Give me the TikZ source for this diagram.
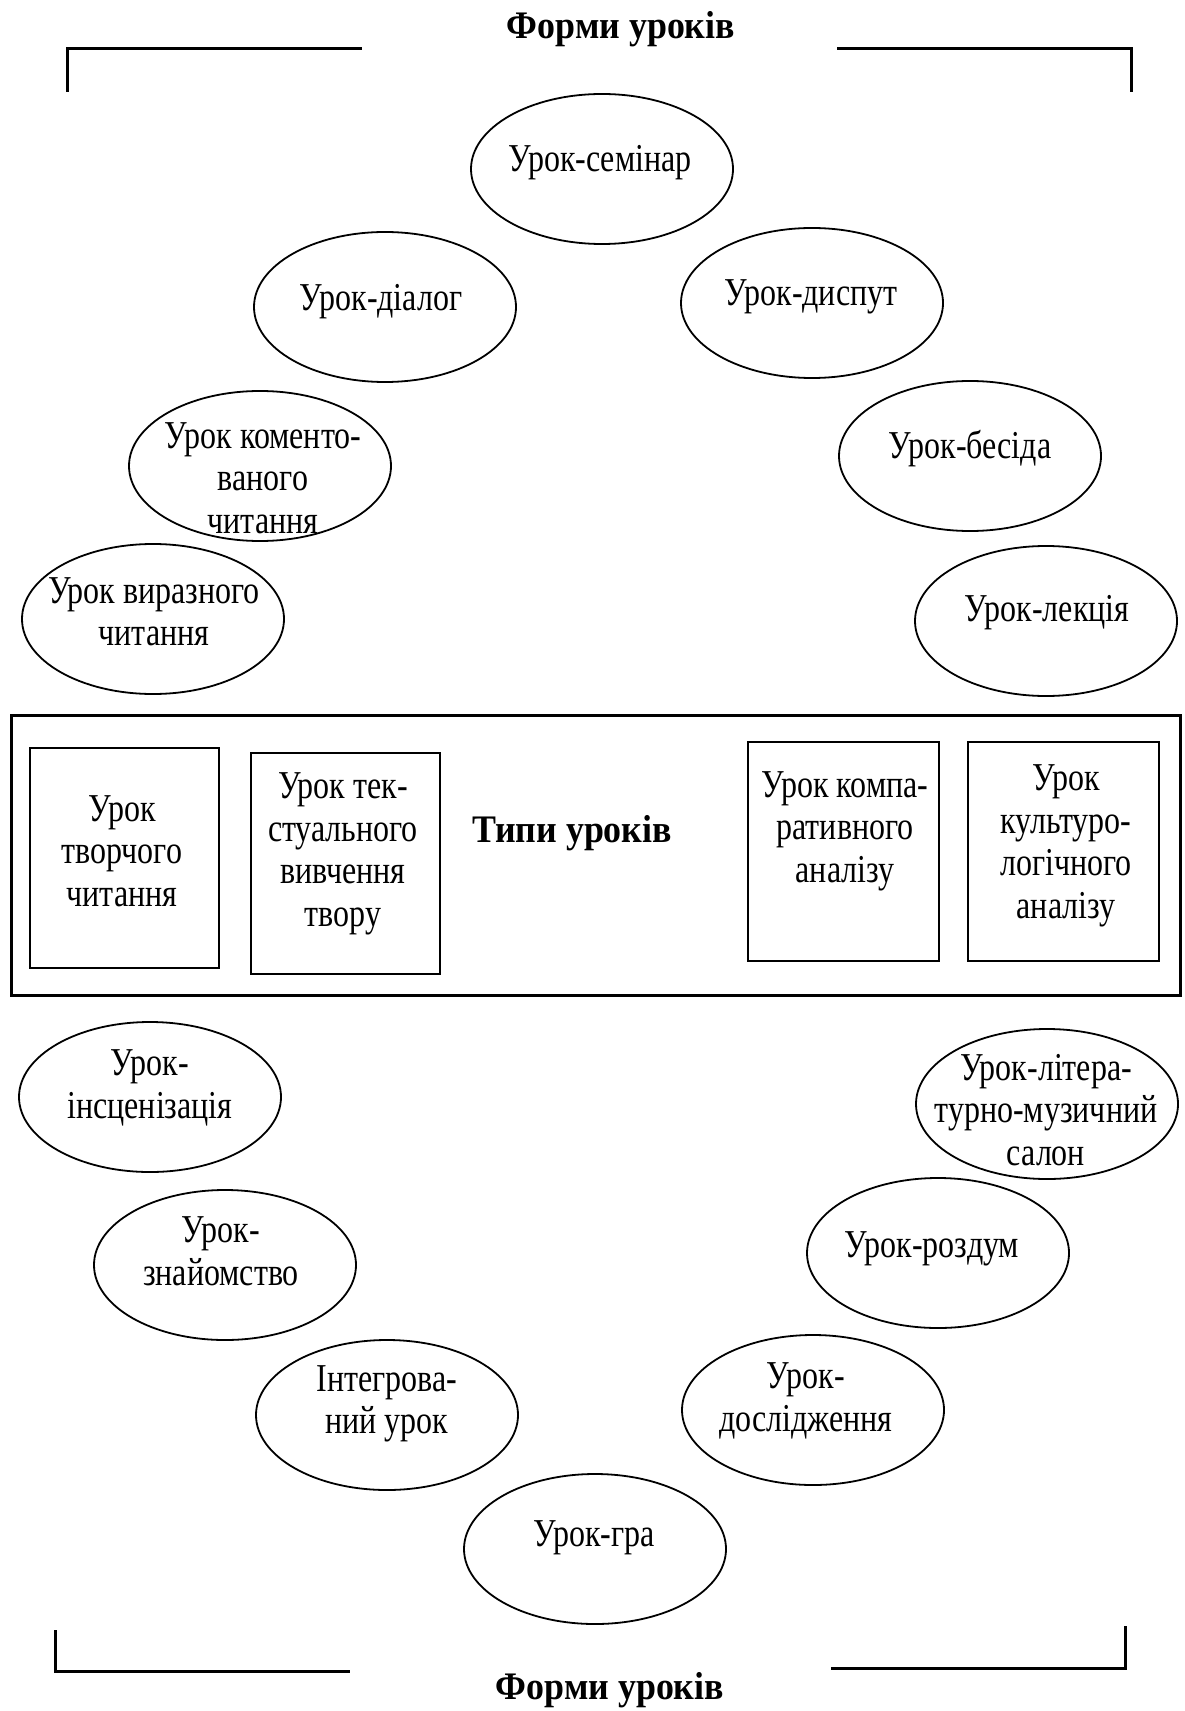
\documentclass[tikz,border=0pt]{standalone}
\usepackage{fontspec}
\setmainfont{Liberation Serif}[FakeStretch=0.81]
\newfontfamily\titlefont{Liberation Serif}[FakeStretch=0.92]
\usetikzlibrary{shapes.geometric}
\begin{document}
\begin{tikzpicture}[x=0.5pt,y=-0.5pt,
  formell/.style={ellipse, draw, line width=0.9pt, minimum width=131pt, minimum height=75pt, inner sep=0pt},
  formtext/.style={align=center, font=\fontsize{19.75pt}{21.25pt}\selectfont, inner sep=0pt},
  typebox/.style={draw, line width=0.7pt, inner sep=0pt},
  bigbox/.style={draw, line width=1.5pt, inner sep=0pt, minimum width=584.5pt, minimum height=140pt},
  bracket/.style={line width=1.5pt},
  headtext/.style={font=\titlefont\bfseries\fontsize{19.5pt}{21pt}\selectfont, inner sep=0pt}]
\useasboundingbox (0,0) rectangle (1184,1711);

% titles and brackets
\node[headtext] (ttop) at (621,29) {Форми уроків};
\node[headtext] (tbot) at (610,1690) {Форми уроків};
\coordinate (tl1) at (67,92); \coordinate (tl2) at (67,49); \coordinate (tl3) at (362,49);
\coordinate (tr1) at (837,49); \coordinate (tr2) at (1131,49); \coordinate (tr3) at (1131,92);
\coordinate (bl1) at (55,1630); \coordinate (bl2) at (55,1671); \coordinate (bl3) at (350,1671);
\coordinate (br1) at (831,1668); \coordinate (br2) at (1125,1668); \coordinate (br3) at (1125,1626);
\draw[bracket] (tl1) -- (tl2) -- (tl3);
\draw[bracket] (tr1) -- (tr2) -- (tr3);
\draw[bracket] (bl1) -- (bl2) -- (bl3);
\draw[bracket] (br1) -- (br2) -- (br3);

% upper ellipses
\node[formell] (e1) at (602,169) {};
\node[formtext] (e1t) at (600,163) {Урок-семінар};
\node[formell] (e2) at (385,307) {};
\node[formtext] (e2t) at (381,302) {Урок-діалог};
\node[formell] (e3) at (812,303) {};
\node[formtext] (e3t) at (811,297) {Урок-диспут};
\node[formell] (e4) at (260,466) {};
\node[formtext] (e4t) at (263,478) {Урок коменто-\\ваного\\читання};
\node[formell] (e5) at (153,619) {};
\node[formtext] (e5t) at (154,612) {Урок виразного\\читання};
\node[formell] (e6) at (970,456) {};
\node[formtext] (e6t) at (970,449) {Урок-бесіда};
\node[formell] (e7) at (1046,621) {};
\node[formtext] (e7t) at (1047,613) {Урок-лекція};

% types of lessons
\node[bigbox] (big) at (595.5,855) {};
\node[typebox, minimum width=94.5pt, minimum height=110pt] (b1) at (124.5,858) {};
\node[formtext] (b1t) at (122,851) {Урок\\творчого\\читання};
\node[typebox, minimum width=94.5pt, minimum height=110.5pt] (b2) at (345.5,863.5) {};
\node[formtext] (b2t) at (343,854) {Урок тек-\\стуального\\вивчення\\твору};
\node[headtext] (types) at (572,833) {Типи уроків};
\node[typebox, minimum width=95.5pt, minimum height=109.5pt] (b3) at (843.5,851.5) {};
\node[formtext] (b3t) at (845,831) {Урок компа-\\ративного\\аналізу};
\node[typebox, minimum width=95.5pt, minimum height=109.5pt] (b4) at (1063.5,851.5) {};
\node[formtext] (b4t) at (1066,846) {Урок\\культуро-\\логічного\\аналізу};

% lower ellipses
\node[formell] (e8) at (150,1097) {};
\node[formtext] (e8t) at (150,1088) {Урок-\\інсценізація};
\node[formell] (e9) at (1047,1104) {};
\node[formtext] (e9t) at (1046,1110) {Урок-літера-\\турно-музичний\\салон};
\node[formell] (e10) at (225,1265) {};
\node[formtext] (e10t) at (221,1251) {Урок-\\знайомство};
\node[formell] (e11) at (938,1253) {};
\node[formtext] (e11t) at (932,1249) {Урок-роздум};
\node[formell] (e12) at (387,1415) {};
\node[formtext] (e12t) at (387,1404) {Інтегрова-\\ний урок};
\node[formell] (e13) at (813,1410) {};
\node[formtext] (e13t) at (806,1401) {Урок-\\дослідження};
\node[formell] (e14) at (595,1549) {};
\node[formtext] (e14t) at (594,1538) {Урок-гра};
\end{tikzpicture}
\end{document}
